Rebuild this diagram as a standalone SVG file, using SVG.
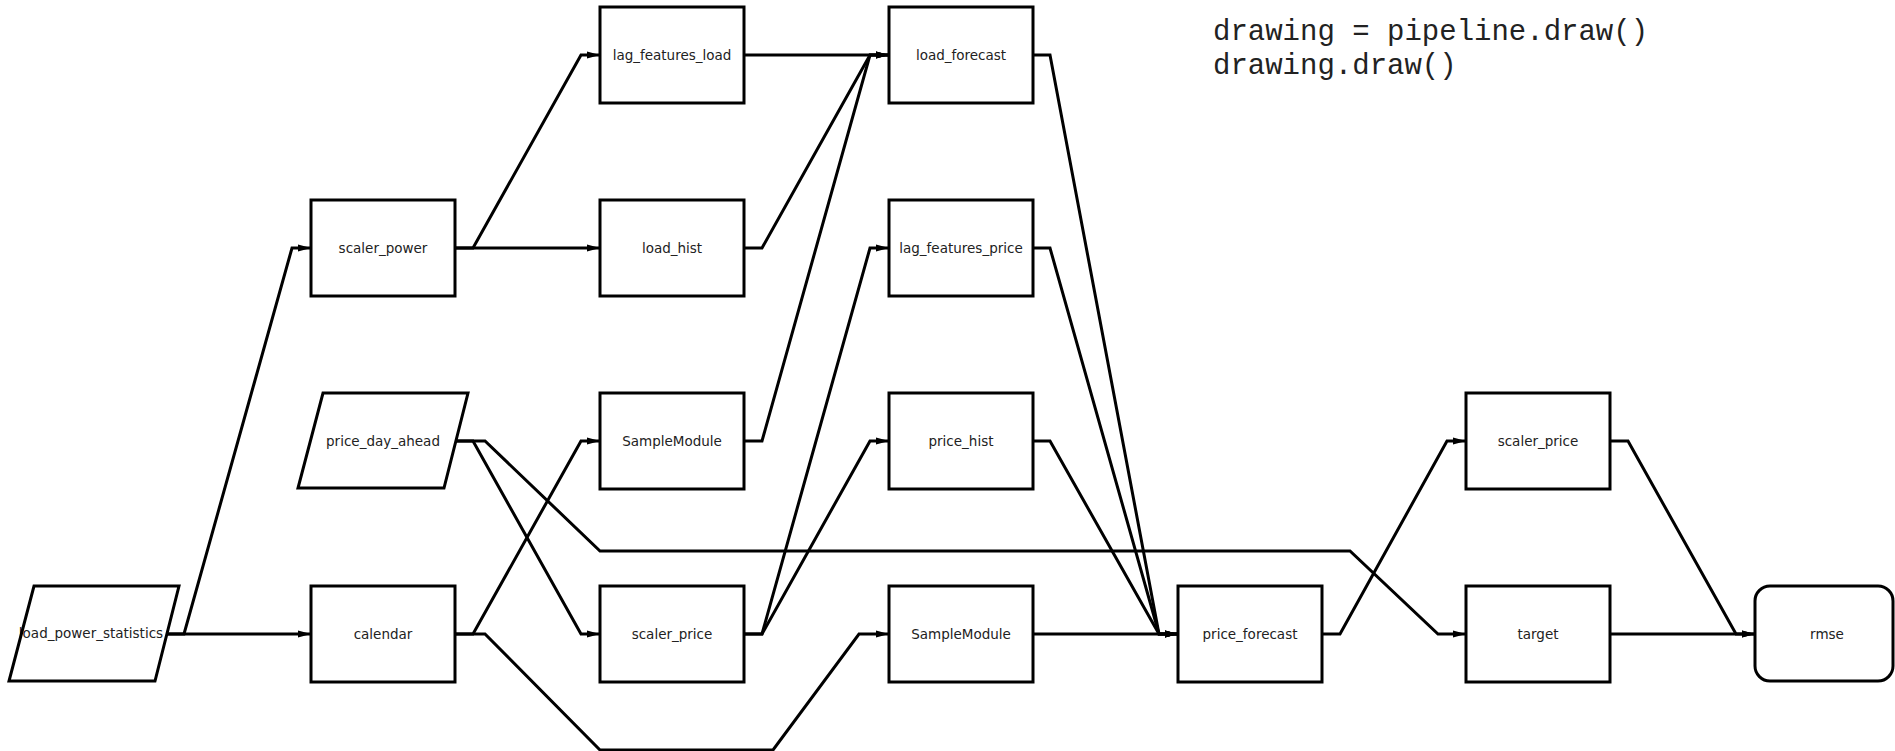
<svg xmlns="http://www.w3.org/2000/svg" width="1895" height="751" viewBox="0 0 1895 751">
<style>
.n{fill:#fff;stroke:#000;stroke-width:3}
.t{font-family:"DejaVu Sans",sans-serif;font-size:13.5px;fill:#222;text-anchor:middle;dominant-baseline:central}
.e{fill:none;stroke:#000;stroke-width:3;stroke-linejoin:miter;marker-end:url(#ah)}
.code{font-family:"Liberation Mono",monospace;font-size:29px;fill:#222}
</style>
<defs>
<marker id="ah" markerUnits="userSpaceOnUse" markerWidth="14" markerHeight="8" refX="13" refY="4" orient="auto">
<path d="M0,0.5 L13,4 L0,7.5 z" fill="#000"/>
</marker>
</defs>
<rect width="1895" height="751" fill="#fff"/>
<g id="connectors">
<path class="e" d="M167,634 L184,634 L292,248 L311,248"/>
<path class="e" d="M167,634 L311,634"/>
<path class="e" d="M455,248 L473,248 L581,55 L600,55"/>
<path class="e" d="M455,248 L600,248"/>
<path class="e" d="M455,634 L473,634 L581,441 L600,441"/>
<path class="e" d="M455,634 L485,634 L600,750 L773,750 L859,634 L889,634"/>
<path class="e" d="M456,441 L473,441 L581,634 L600,634"/>
<path class="e" d="M456,441 L485,441 L600,551 L1350,551 L1438,634 L1466,634"/>
<path class="e" d="M744,55 L889,55"/>
<path class="e" d="M744,248 L762,248 L870,55 L889,55"/>
<path class="e" d="M744,441 L762,441 L870,55 L889,55"/>
<path class="e" d="M744,634 L762,634 L870,248 L889,248"/>
<path class="e" d="M744,634 L762,634 L870,441 L889,441"/>
<path class="e" d="M1033,55 L1050,55 L1159,634 L1178,634"/>
<path class="e" d="M1033,248 L1050,248 L1159,634 L1178,634"/>
<path class="e" d="M1033,441 L1050,441 L1159,634 L1178,634"/>
<path class="e" d="M1033,634 L1178,634"/>
<path class="e" d="M1322,634 L1340,634 L1447,441 L1466,441"/>
<path class="e" d="M1610,441 L1628,441 L1736,634 L1755,634"/>
<path class="e" d="M1610,634 L1755,634"/>
</g>
<g id="load_power_statistics">
<polygon points="34,586 179,586 155,681 9,681" fill="#fff"/>
<text class="t" x="91" y="633">load_power_statistics</text>
<polygon points="34,586 179,586 155,681 9,681" fill="none" stroke="#000" stroke-width="3"/>
</g>
<g id="scaler_power"><rect class="n" x="311" y="200" width="144" height="96"/><text class="t" x="383" y="248">scaler_power</text></g>
<g id="price_day_ahead"><polygon class="n" points="323,393 468,393 444,488 298,488"/><text class="t" x="383" y="441">price_day_ahead</text></g>
<g id="calendar"><rect class="n" x="311" y="586" width="144" height="96"/><text class="t" x="383" y="634">calendar</text></g>
<g id="lag_features_load"><rect class="n" x="600" y="7" width="144" height="96"/><text class="t" x="672" y="55">lag_features_load</text></g>
<g id="load_hist"><rect class="n" x="600" y="200" width="144" height="96"/><text class="t" x="672" y="248">load_hist</text></g>
<g id="SampleModule_1"><rect class="n" x="600" y="393" width="144" height="96"/><text class="t" x="672" y="441">SampleModule</text></g>
<g id="scaler_price_1"><rect class="n" x="600" y="586" width="144" height="96"/><text class="t" x="672" y="634">scaler_price</text></g>
<g id="load_forecast"><rect class="n" x="889" y="7" width="144" height="96"/><text class="t" x="961" y="55">load_forecast</text></g>
<g id="lag_features_price"><rect class="n" x="889" y="200" width="144" height="96"/><text class="t" x="961" y="248">lag_features_price</text></g>
<g id="price_hist"><rect class="n" x="889" y="393" width="144" height="96"/><text class="t" x="961" y="441">price_hist</text></g>
<g id="SampleModule_2"><rect class="n" x="889" y="586" width="144" height="96"/><text class="t" x="961" y="634">SampleModule</text></g>
<g id="price_forecast"><rect class="n" x="1178" y="586" width="144" height="96"/><text class="t" x="1250" y="634">price_forecast</text></g>
<g id="scaler_price_2"><rect class="n" x="1466" y="393" width="144" height="96"/><text class="t" x="1538" y="441">scaler_price</text></g>
<g id="target"><rect class="n" x="1466" y="586" width="144" height="96"/><text class="t" x="1538" y="634">target</text></g>
<g id="rmse"><rect class="n" x="1755" y="586" width="138" height="95" rx="15" ry="15"/><text class="t" x="1827" y="634">rmse</text></g>
<g id="code">
<text class="code" x="1213" y="40">drawing = pipeline.draw()</text>
<text class="code" x="1213" y="74">drawing.draw()</text>
</g>
</svg>
